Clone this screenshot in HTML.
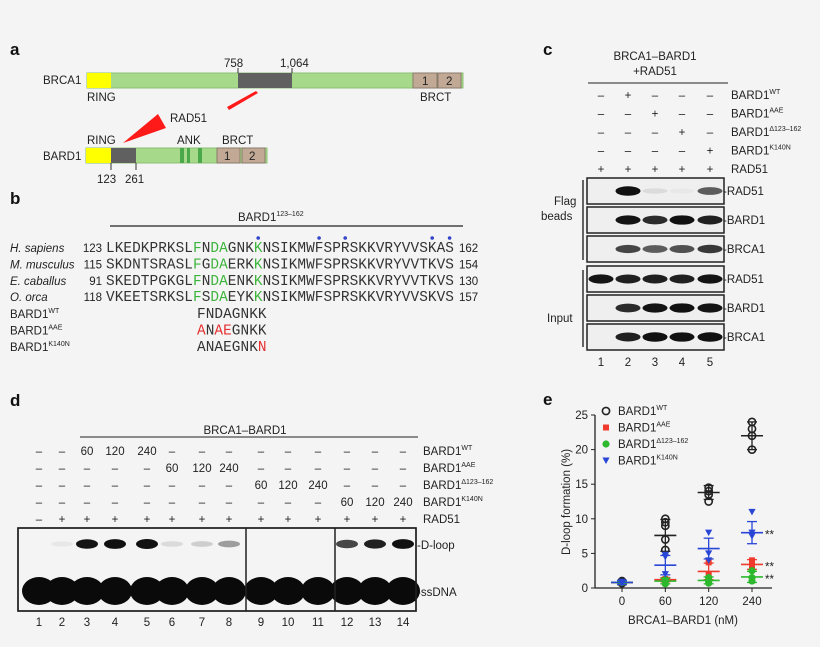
<!DOCTYPE html>
<html><head><meta charset="utf-8"><style>
html,body{margin:0;padding:0;background:#f4f4f4}
svg{display:block;font-family:"Liberation Sans",sans-serif}
.m{font-family:"Liberation Mono",monospace;font-size:14.4px;fill:#333}
.t{font-size:11.5px;fill:#222}
.pl{font-size:17px;font-weight:bold;fill:#111}
</style></head><body>
<svg id="fig" width="820" height="647" viewBox="0 0 820 647">
<rect width="820" height="647" fill="#f4f4f4"/>
<g>
<text class="pl" x="10" y="55">a</text>
<text class="t" x="43" y="84">BRCA1</text>
<rect x="87" y="73" width="376" height="15" fill="#a6d98a" stroke="#8cbf72"/>
<rect x="87" y="73" width="24" height="15" fill="#ffff00"/>
<rect x="238" y="73" width="54" height="15" fill="#606060"/>
<rect x="413" y="73" width="24" height="15" fill="#c2a996" stroke="#8a7a6a"/>
<rect x="438" y="73" width="23" height="15" fill="#c2a996" stroke="#8a7a6a"/>
<text class="t" x="422" y="85">1</text><text class="t" x="446" y="85">2</text>
<line x1="238" y1="68" x2="238" y2="73" stroke="#333"/><line x1="292" y1="68" x2="292" y2="73" stroke="#333"/>
<text class="t" x="224" y="67">758</text><text class="t" x="280" y="67">1,064</text>
<text class="t" x="87" y="101">RING</text><text class="t" x="420" y="101">BRCT</text>
<polygon points="256,91 258,93 229,110 227,107" fill="#ff1a1a"/>
<polygon points="123,143 158,114 166,128" fill="#ff1a1a"/>
<text class="t" x="170" y="122">RAD51</text>
<text class="t" x="87" y="144">RING</text><text class="t" x="177" y="144">ANK</text><text class="t" x="222" y="144">BRCT</text>
<text class="t" x="43" y="160">BARD1</text>
<rect x="86" y="148" width="181" height="15" fill="#a6d98a" stroke="#8cbf72"/>
<rect x="86" y="148" width="25" height="15" fill="#ffff00"/>
<rect x="111" y="148" width="25" height="15" fill="#606060"/>
<rect x="180" y="148" width="4" height="15" fill="#4aa84a"/><rect x="187" y="148" width="3" height="15" fill="#4aa84a"/><rect x="198" y="148" width="4" height="15" fill="#4aa84a"/>
<rect x="217" y="148" width="23" height="15" fill="#c2a996" stroke="#8a7a6a"/>
<rect x="242" y="148" width="23" height="15" fill="#c2a996" stroke="#8a7a6a"/>
<text class="t" x="224" y="160">1</text><text class="t" x="249" y="160">2</text>
<line x1="111" y1="163" x2="111" y2="170" stroke="#333"/><line x1="136" y1="163" x2="136" y2="170" stroke="#333"/>
<text class="t" x="97" y="183">123</text><text class="t" x="125" y="183">261</text>
</g>
<g id="pb">
<text class="pl" x="10" y="204">b</text>
<text class="t" x="238" y="221">BARD1<tspan font-size="7" dy="-5">123–162</tspan></text>
<line x1="110" y1="226" x2="463" y2="226" stroke="#222" stroke-width="1.3"/>
</g>
<g id="pc">
<text class="pl" x="543" y="55">c</text>
<text class="t" x="655" y="60" text-anchor="middle">BRCA1–BARD1</text>
<text class="t" x="655" y="75" text-anchor="middle">+RAD51</text>
<line x1="588" y1="83" x2="728" y2="83" stroke="#222"/>
<text class="t" x="554" y="205">Flag</text><text class="t" x="541" y="220">beads</text>
<text class="t" x="547" y="322">Input</text>
<line x1="583" y1="180" x2="583" y2="260" stroke="#333" stroke-width="1.5"/>
<line x1="583" y1="270" x2="583" y2="347" stroke="#333" stroke-width="1.5"/>
</g>
<g id="pd">
<text class="pl" x="10" y="406">d</text>
<text class="t" x="245" y="434" text-anchor="middle">BRCA1–BARD1</text>
<line x1="80" y1="437" x2="418" y2="437" stroke="#222"/>
<rect x="18" y="528" width="398" height="83" fill="#f4f4f4" stroke="#222" stroke-width="1.5"/>
<text class="t" x="417" y="549">-D-loop</text><text class="t" x="417" y="596">-ssDNA</text>
</g>
<g id="pe">
<text class="pl" x="543" y="405">e</text>
</g>
</svg>
<script>
const NS='http://www.w3.org/2000/svg';
function mk(p,tag,attrs,txt){const e=document.createElementNS(NS,tag);for(const k in attrs)e.setAttribute(k,attrs[k]);if(txt!==undefined)e.textContent=txt;p.appendChild(e);return e;}
const species=['H. sapiens','M. musculus','E. caballus','O. orca'];
const startNums=['123','115','91','118'];
const endNums=['162','154','130','157'];
const seqs=['LKEDKPRKSLFNDAGNKKNSIKMWFSPRSKKVRYVVSKAS','SKDNTSRASLFGDAERKKNSIKMWFSPRSKKVRYVVTKVS','SKEDTPGKGLFNDAENKKNSIKMWFSPRSKKVRYVVTKVS','VKEETSRKSLFSDAEYKKNSIKMWFSPRSKKVRYVVSKVS'];
const greenIdx=[10,12,13,17];
const starIdx=[17,24,27,37,39];
const mutNames=['WT','AAE','K140N'];
const mutSeqs=['FNDAGNKK','ANAEGNKK','ANAEGNKN'];
const mutRed=[[],[0,2,3],[7]];
const pb=document.getElementById('pb');
const cw=8.7,sx=106;
starIdx.forEach(i=>{const c=mk(pb,'circle',{cx:sx+i*cw+4.3,cy:238,r:1.8,fill:'#3344cc'});

});
species.forEach((s,r)=>{const y=252+r*16.4;
 const l=mk(pb,'text',{x:10,y:y,'class':'t','font-style':'italic'},s);
 
 
 mk(pb,'text',{x:102,y:y,'class':'t','text-anchor':'end'},startNums[r]);
 const t=mk(pb,'text',{x:sx,y:y,'class':'m'});
 
 
 [...seqs[r]].forEach((ch,i)=>{const ts=mk(t,'tspan',{x:sx+i*cw},ch);if(greenIdx.includes(i))ts.setAttribute('fill','#3cb43c');});
 mk(pb,'text',{x:459,y:y,'class':'t'},endNums[r]);
});
mutNames.forEach((n,r)=>{const y=318+r*16.5;
 const l=mk(pb,'text',{x:10,y:y,'class':'t'});l.innerHTML='BARD1<tspan font-size="7" dy="-5">'+n+'</tspan>';
 
 
 const t=mk(pb,'text',{x:197,y:y,'class':'m'});
 [...mutSeqs[r]].forEach((ch,i)=>{const ts=mk(t,'tspan',{x:197+i*cw},ch);if(mutRed[r].includes(i))ts.setAttribute('fill','#e53030');});
});
const pc=document.getElementById('pc');
const cCols=[601,628,655,682,710];
const cRowLabels=['WT','AAE','Δ123–162','K140N',null];
const cSigns=[['–','+','–','–','–'],['–','–','+','–','–'],['–','–','–','+','–'],['–','–','–','–','+'],['+','+','+','+','+']];
cSigns.forEach((row,r)=>{const y=99+r*18.5;
 row.forEach((s,i)=>mk(pc,'text',{x:cCols[i],y:y,'class':'t','text-anchor':'middle'},s));
 const l=mk(pc,'text',{x:731,y:y,'class':'t'});
 l.innerHTML=cRowLabels[r]?'BARD1<tspan font-size="7" dy="-5">'+cRowLabels[r]+'</tspan>':'RAD51';
 
 
});
const blotY=[178,207,236,266,295,324];
const blotNames=['RAD51','BARD1','BRCA1','RAD51','BARD1','BRCA1'];
const blotInt=[[0,1,0.08,0.03,0.6],[0,0.9,0.8,0.95,0.85],[0,0.7,0.6,0.65,0.75],[0.9,0.85,0.85,0.85,0.9],[0,0.8,0.9,0.95,0.9],[0,0.85,1,0.95,1]];
blotY.forEach((y,b)=>{const g=mk(pc,'g',{});
 
 
 mk(g,'rect',{x:587,y:y,width:137,height:26,fill:'#efefef',stroke:'#222','stroke-width':1.5});
 blotInt[b].forEach((v,i)=>{if(v>0.02)mk(g,'ellipse',{cx:cCols[i],cy:y+13,rx:12.5,ry:2.5+v*2.3,fill:'#111','fill-opacity':Math.min(1,v*1.1)});});
 mk(g,'text',{x:723,y:y+17,'class':'t'},'-'+blotNames[b]);
});
cCols.forEach((x,i)=>mk(pc,'text',{x:x,y:366,'class':'t','text-anchor':'middle','font-size':'10.5'},String(i+1)));
const pd=document.getElementById('pd');
const dCols=[39,62,87,115,147,172,202,229,261,288,318,347,375,403];
const dRows=[['–','–','60','120','240','–','–','–','–','–','–','–','–','–'],['–','–','–','–','–','60','120','240','–','–','–','–','–','–'],['–','–','–','–','–','–','–','–','60','120','240','–','–','–'],['–','–','–','–','–','–','–','–','–','–','–','60','120','240'],['–','+','+','+','+','+','+','+','+','+','+','+','+','+']];
const dLabels=['WT','AAE','Δ123–162','K140N',null];
const dloop=[0,0.05,0.9,0.95,1,0.1,0.15,0.35,0,0,0,0.7,0.85,0.95];
dRows.forEach((row,r)=>{const y=455+r*17;
 row.forEach((s,i)=>mk(pd,'text',{x:dCols[i],y:y,'class':'t','text-anchor':'middle'},s));
 const l=mk(pd,'text',{x:423,y:y,'class':'t'});
 l.innerHTML=dLabels[r]?'BARD1<tspan font-size="7" dy="-5">'+dLabels[r]+'</tspan>':'RAD51';
 
 
});
dCols.forEach((x,i)=>{
 if(dloop[i]>0.02){const b=mk(pd,'ellipse',{cx:x,cy:544,rx:11,ry:2.5+dloop[i]*2.5,fill:'#111','fill-opacity':Math.min(1,dloop[i]*1.1)});
 
 }
 const s=mk(pd,'ellipse',{cx:x,cy:591,rx:17,ry:14,fill:'#0a0a0a'});
 
 
 mk(pd,'text',{x:x,y:626,'class':'t','text-anchor':'middle','font-size':'10.5'},String(i+1));
});
mk(pd,'rect',{x:18,y:528,width:398,height:83,fill:'none',stroke:'#222','stroke-width':1.5});
mk(pd,'line',{x1:246,y1:528,x2:246,y2:611,stroke:'#222','stroke-width':1.5});
mk(pd,'line',{x1:335,y1:528,x2:335,y2:611,stroke:'#222','stroke-width':1.5});
const eCats=['0','60','120','240'];
const yTicks=[0,5,10,15,20,25];
const wtMean=[0.8,7.6,13.8,22];const wtSd=[0.3,2.3,1,2];const wtPts=[[0.7,0.9,1],[10,9.5,9,7,5.5],[14.5,14,13.5,12.5],[24,23,22,20]];
const aaeMean=[0.8,1.2,2.4,3.4];const aaeSd=[0.2,0.3,1.2,0.7];const aaePts=[[0.8],[1.3,1.0],[3.7,2.0,1.5],[4,3.5,2.7]];
const delMean=[0.8,1.0,1.1,1.6];const delSd=[0.2,0.4,0.5,0.8];const delPts=[[0.8],[1.2,0.6],[1.5,1,0.7],[2.5,1.5,1]];
const kMean=[0.8,3.3,5.7,8];const kSd=[0.3,1.4,1.5,1.6];const kPts=[[0.9,0.7],[4.8,4.5,2],[8,5,4],[11,8,7.5]];
const pe=document.getElementById('pe');
const X0=595,X1=772,Ybase=588,Ytop=415;
const xs=i=>622+i*((752-622)/3);
const ys=v=>Ybase-(v/25)*(Ybase-Ytop);
mk(pe,'line',{x1:X0,y1:Ybase,x2:X1,y2:Ybase,stroke:'#222','stroke-width':1.3});
mk(pe,'line',{x1:X0,y1:Ybase,x2:X0,y2:Ytop,stroke:'#222','stroke-width':1.3});
yTicks.forEach(v=>{mk(pe,'line',{x1:X0-4,y1:ys(v),x2:X0,y2:ys(v),stroke:'#222'});
 const t=mk(pe,'text',{x:X0-7,y:ys(v)+4,'class':'t','text-anchor':'end'},String(v));
 
 });
eCats.forEach((c,i)=>{mk(pe,'line',{x1:xs(i),y1:Ybase,x2:xs(i),y2:Ybase+4,stroke:'#222'});
 const t=mk(pe,'text',{x:xs(i),y:Ybase+17,'class':'t','text-anchor':'middle'},c);
 
 });
const xl=mk(pe,'text',{x:683,y:624,'class':'t','text-anchor':'middle'},'BRCA1–BARD1 (nM)');


const yl=mk(pe,'text',{x:0,y:0,'class':'t','text-anchor':'middle',transform:'translate(570,502) rotate(-90)'},'D-loop formation (%)');


function marker(g,type,x,y,col){
 if(type==='o')return mk(g,'circle',{cx:x,cy:y,r:3.6,fill:'none',stroke:col,'stroke-width':1.6});
 if(type==='s')return mk(g,'rect',{x:x-3,y:y-3,width:6,height:6,fill:col});
 if(type==='c')return mk(g,'circle',{cx:x,cy:y,r:3.6,fill:col});
 return mk(g,'polygon',{points:(x-3.6)+','+(y-3)+' '+(x+3.6)+','+(y-3)+' '+x+','+(y+3.5),fill:col});
}
const series=[['wt',wtMean,wtSd,wtPts,'#222','o'],['aae',aaeMean,aaeSd,aaePts,'#f03a2e','s'],['del',delMean,delSd,delPts,'#2db82d','c'],['k140n',kMean,kSd,kPts,'#2946d6','v']];
series.forEach(([n,mean,sd,pts,col,type])=>{const g=mk(pe,'g',{});
 
 
 mean.forEach((m,i)=>{const x=xs(i);
  pts[i].forEach(v=>{const p=marker(g,type,x,ys(v),col);
   
   });
  mk(g,'line',{x1:x-11,y1:ys(m),x2:x+11,y2:ys(m),stroke:col,'stroke-width':1.6});
  mk(g,'line',{x1:x,y1:ys(m-sd[i]),x2:x,y2:ys(m+sd[i]),stroke:col,'stroke-width':1.3});
  mk(g,'line',{x1:x-5,y1:ys(m-sd[i]),x2:x+5,y2:ys(m-sd[i]),stroke:col,'stroke-width':1.3});
  mk(g,'line',{x1:x-5,y1:ys(m+sd[i]),x2:x+5,y2:ys(m+sd[i]),stroke:col,'stroke-width':1.3});
 });
 if(n!=='wt'){const s=mk(pe,'text',{x:765,y:ys(mean[3])+6,'class':'t'},'**');
  
  }
});
const legNames=['WT','AAE','Δ123–162','K140N'];
legNames.forEach((n,i)=>{const y=411+i*16.5;const g=mk(pe,'g',{});
 
 
 marker(g,series[i][5],606,y,series[i][4]);
 const t=mk(g,'text',{x:618,y:y+4,'class':'t'});t.innerHTML='BARD1<tspan font-size="7" dy="-5">'+n+'</tspan>';
});
</script>
</body></html>
